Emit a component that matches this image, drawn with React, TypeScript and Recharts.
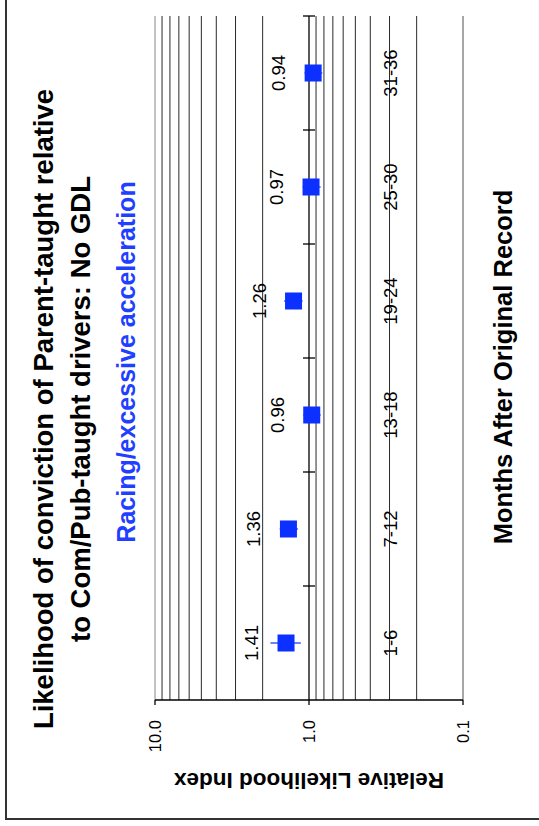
import { ComposedChart, Line, XAxis, YAxis, ReferenceLine, ErrorBar, LabelList, Label } from 'recharts'

const CATEGORIES = ['1-6', '7-12', '13-18', '19-24', '25-30', '31-36']
const INDEX_VALUES = [1.41, 1.36, 0.96, 1.26, 0.97, 0.94]
const CI_LOW = [1.13, 1.18, 0.84, 1.1, 0.84, 0.82]
const CI_HIGH = [1.78, 1.55, 1.09, 1.45, 1.1, 1.07]
const Y_TICKS = [0.1, 1, 10]
const GRID_VALUES = [0.2, 0.3, 0.4, 0.5, 0.6, 0.7, 0.8, 0.9, 2, 3, 4, 5, 6, 7, 8, 9, 10]

const BLUE = '#0b30ff'
const FONT = '"Liberation Sans", Arial, sans-serif'

const data = CATEGORIES.map((month, i) => ({
  month,
  index: INDEX_VALUES[i],
  ci: [INDEX_VALUES[i] - CI_LOW[i], CI_HIGH[i] - INDEX_VALUES[i]],
}))

// chart is drawn upright (826 x 539) and turned a quarter left
const W = 826
const H = 539
const PLOT_H = 308 // 10 -> 0.1, so the 1.0 axis sits half way up

function SquareDot(props: any) {
  const { cx, cy, index } = props
  if (cx == null || cy == null) return null
  return <rect key={`sq-${index}`} x={cx - 8.5} y={cy - 8.5} width={17} height={17} fill={BLUE} />
}

// month label plus the small crossing tick marks on the 1.0 axis
function MonthTick(props: any) {
  const { x, y, payload, index, visibleTicksCount } = props
  const half = payload.offset || 0
  const axisY = y - PLOT_H / 2
  const last = index === (visibleTicksCount ?? CATEGORIES.length) - 1
  return (
    <g>
      {index > 0 && (
        <line x1={x - half} x2={x - half} y1={axisY - 6} y2={axisY + 6} stroke="#000" strokeWidth={1.3} />
      )}
      {last && (
        <line x1={x + half} x2={x + half} y1={axisY - 6} y2={axisY + 6} stroke="#000" strokeWidth={1.3} />
      )}
      <text x={x} y={y - 66} textAnchor="middle" fontSize={18.5} fill="#000">
        {payload.value}
      </text>
    </g>
  )
}

export default function App() {
  return (
    <div
      style={{
        position: 'absolute',
        left: 0,
        top: 0,
        width: H,
        height: W,
        overflow: 'hidden',
        background: '#fff',
        fontFamily: FONT,
      }}
    >
      <div
        style={{
          position: 'absolute',
          left: 0,
          top: 0,
          width: W,
          height: H,
          transformOrigin: '0 0',
          transform: `translate(0px, ${W}px) rotate(-90deg)`,
        }}
      >
        <div
          style={{
            position: 'absolute',
            left: 6,
            top: 5,
            width: 1000,
            height: 1000,
            border: '2px solid #333',
          }}
        />
        <svg width={W} height={H} style={{ position: 'absolute', left: 0, top: 0 }}>
          <text x={417} y={53} textAnchor="middle" fontSize={27.5} fontWeight="bold" fill="#000">
            Likelihood of conviction of Parent-taught relative
          </text>
          <text x={417} y={90} textAnchor="middle" fontSize={27.5} fontWeight="bold" fill="#000">
            to Com/Pub-taught drivers: No GDL
          </text>
          <text x={464} y={135} textAnchor="middle" fontSize={25} fontWeight="bold" fill="#1f40ff">
            Racing/excessive acceleration
          </text>
        </svg>
        <div style={{ position: 'absolute', left: 0, top: 0 }}>
          <ComposedChart width={W} height={H} data={data} margin={{ top: 155, right: 16, left: 0, bottom: 0 }}>
            <XAxis
              dataKey="month"
              type="category"
              scale="band"
              height={76}
              tickSize={0}
              tickMargin={0}
              interval={0}
              axisLine={{ stroke: '#888', strokeWidth: 1.5 }}
              tickLine={false}
              tick={MonthTick}
            >
              <Label
                content={(p: any) => {
                  const vb = p.viewBox || { x: 126, y: 463, width: 684, height: 76 }
                  return (
                    <text
                      x={vb.x + vb.width / 2 - 9}
                      y={vb.y + vb.height - 27}
                      textAnchor="middle"
                      fontSize={25.5}
                      fontWeight="bold"
                      fill="#000"
                    >
                      Months After Original Record
                    </text>
                  )
                }}
              />
            </XAxis>
            <YAxis
              scale="log"
              type="number"
              domain={[0.1, 10]}
              ticks={Y_TICKS}
              allowDataOverflow
              width={126}
              tickSize={5}
              tickMargin={15}
              tickFormatter={(v: number) => v.toFixed(1)}
              tick={{ fontSize: 16.5, fill: '#000' }}
              axisLine={{ stroke: '#000', strokeWidth: 1.3 }}
              tickLine={{ stroke: '#000', strokeWidth: 1.3 }}
            >
              <Label
                content={(p: any) => {
                  const vb = p.viewBox || { x: 0, y: 155, width: 126, height: 308 }
                  const cx = vb.x + 53
                  const cy = vb.y + vb.height / 2
                  return (
                    <text
                      x={cx}
                      y={cy}
                      transform={`rotate(-90 ${cx} ${cy})`}
                      textAnchor="middle"
                      fontSize={22.5}
                      fontWeight="bold"
                      fill="#000"
                    >
                      Relative Likelihood Index
                    </text>
                  )
                }}
              />
            </YAxis>
            <YAxis
              yAxisId="frame"
              orientation="right"
              width={0}
              domain={[0, 1]}
              tick={false}
              tickLine={false}
              axisLine={{ stroke: '#bbb', strokeWidth: 1.5 }}
            />
            {GRID_VALUES.map((v) => (
              <ReferenceLine key={`g-${v}`} y={v} stroke={v === 10 ? '#888' : '#2a2a2a'} strokeWidth={1} />
            ))}
            <ReferenceLine y={1} stroke="#000" strokeWidth={1.3} />
            <Line
              dataKey="index"
              stroke="none"
              isAnimationActive={false}
              dot={SquareDot}
              activeDot={false}
            >
              <ErrorBar dataKey="ci" direction="y" width={0} stroke={BLUE} strokeWidth={1.2} />
              <LabelList
                dataKey="index"
                position="top"
                offset={28}
                fontSize={18.5}
                fill="#000"
                formatter={(v: any) => Number(v).toFixed(2)}
              />
            </Line>
          </ComposedChart>
        </div>
      </div>
    </div>
  )
}
